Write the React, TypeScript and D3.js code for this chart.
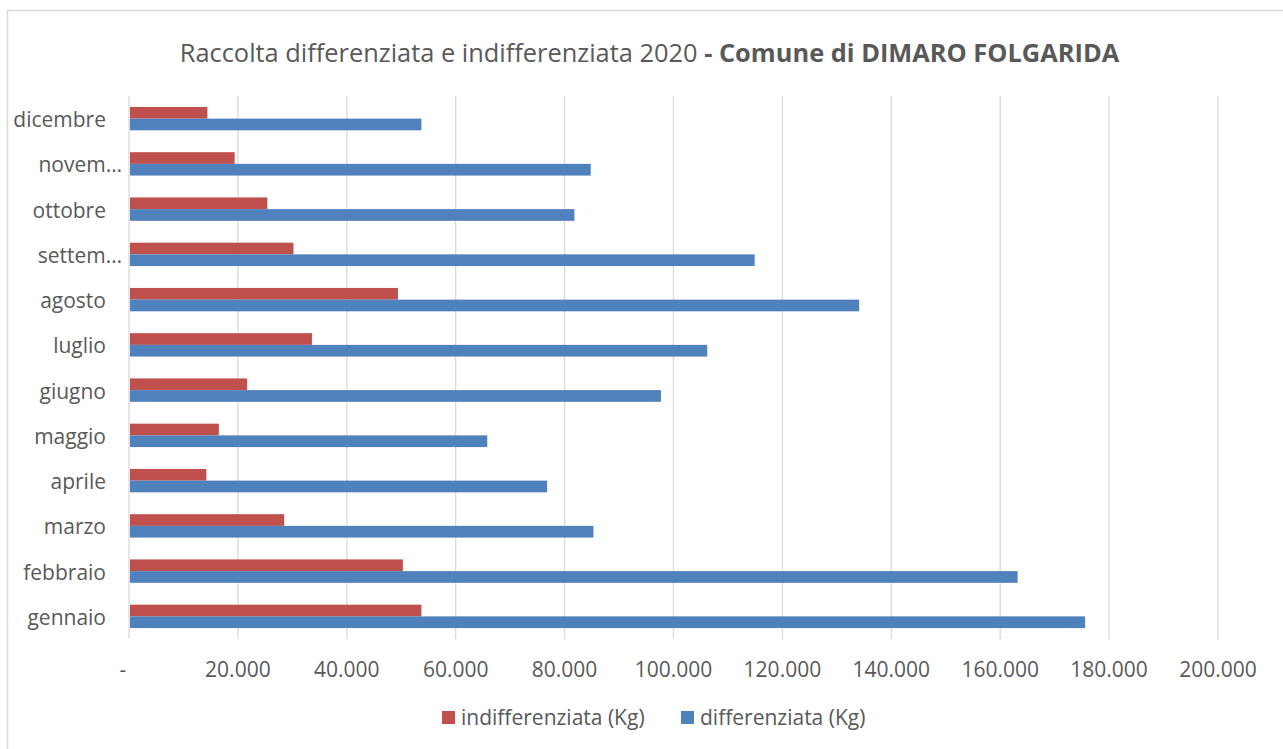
import React from 'react';
import * as d3 from 'd3';

const months = ['gennaio', 'febbraio', 'marzo', 'aprile', 'maggio', 'giugno', 'luglio', 'agosto', 'settembre', 'ottobre', 'novembre', 'dicembre'];
// labels as Excel shows them (long ones cut off)
const monthLabels = ['gennaio', 'febbraio', 'marzo', 'aprile', 'maggio', 'giugno', 'luglio', 'agosto', 'settem…', 'ottobre', 'novem…', 'dicembre'];
const indifferenziata = [53700, 50300, 28500, 14200, 16500, 21700, 33600, 49400, 30200, 25400, 19400, 14400];
const differenziata = [175600, 163200, 85300, 76800, 65800, 97700, 106200, 134100, 114900, 81800, 84800, 53700];
const xTicks = [0, 20000, 40000, 60000, 80000, 100000, 120000, 140000, 160000, 180000, 200000];
const seriesNames = ['indifferenziata (Kg)', 'differenziata (Kg)'];
const seriesColors = ['#C0504D', '#4F81BD'];

const W = 1283;
const H = 749;
const FONT = '"Open Sans", sans-serif';
const TEXT = '#595959';
const GRID = '#d9d9d9';

const itFormat = d3.formatLocale({ decimal: ',', thousands: '.', grouping: [3], currency: ['', ''] }).format(',');

export default function App() {
  const margin = { top: 96, left: 129, right: 65, bottom: 110 };

  const x = d3.scaleLinear()
    .domain([0, 200000])
    .range([margin.left, W - margin.right]);

  // top row is dicembre
  const y = d3.scaleBand<string>()
    .domain(months.slice().reverse())
    .range([margin.top, H - margin.bottom])
    .paddingInner(0.483)
    .paddingOuter(0.2415);

  const sub = d3.scaleBand<number>()
    .domain([0, 1])
    .range([0, y.bandwidth()]);

  const series = [indifferenziata, differenziata];
  const labelOf = (m: string) => monthLabels[months.indexOf(m)];

  return (
    <svg width={W} height={H} style={{ position: 'absolute', left: 0, top: 0 }} fontFamily={FONT}>
      <rect x={7.5} y={10.5} width={1300} height={800} fill="#fff" stroke={GRID} strokeWidth={1.5} />

      <text x={649.5} y={62} textAnchor="middle" fill={TEXT} fontSize={25.4}>
        Raccolta differenziata e indifferenziata 2020 <tspan fontWeight="bold">- Comune di DIMARO FOLGARIDA</tspan>
      </text>

      {/* vertical gridlines */}
      {xTicks.map(t => (
        <line key={t} x1={x(t)} x2={x(t)} y1={margin.top} y2={H - margin.bottom}
          stroke={GRID} strokeWidth={1.3} />
      ))}

      {/* bars */}
      {series.map((vals, si) => (
        <g key={si}>
          {months.map((m, i) => (
            <rect key={m}
              x={x(0) + 1}
              y={(y(m) as number) + (sub(si) as number)}
              width={x(vals[i]) - x(0) - 1}
              height={sub.bandwidth()}
              fill={seriesColors[si]} />
          ))}
        </g>
      ))}

      {/* category labels */}
      {months.map(m => {
        const lbl = labelOf(m);
        const cut = lbl.endsWith('…');
        return (
          <text key={m} x={cut ? 122 : 106} y={(y(m) as number) + y.bandwidth() / 2} dy="0.4em"
            textAnchor="end" fill={TEXT} fontSize={21}>{lbl}</text>
        );
      })}

      {/* x tick labels */}
      {xTicks.map(t => (
        <text key={t} x={t === 0 ? x(t) - 6 : x(t)} y={677} textAnchor="middle" fill={TEXT} fontSize={21}>
          {t === 0 ? '-' : itFormat(t)}
        </text>
      ))}

      {/* legend */}
      <g>
        <rect x={442} y={711} width={13} height={13} fill={seriesColors[0]} />
        <text x={461} y={724.5} fill={TEXT} fontSize={21}>{seriesNames[0]}</text>
        <rect x={681} y={711} width={13} height={13} fill={seriesColors[1]} />
        <text x={700} y={724.5} fill={TEXT} fontSize={21}>{seriesNames[1]}</text>
      </g>
    </svg>
  );
}
